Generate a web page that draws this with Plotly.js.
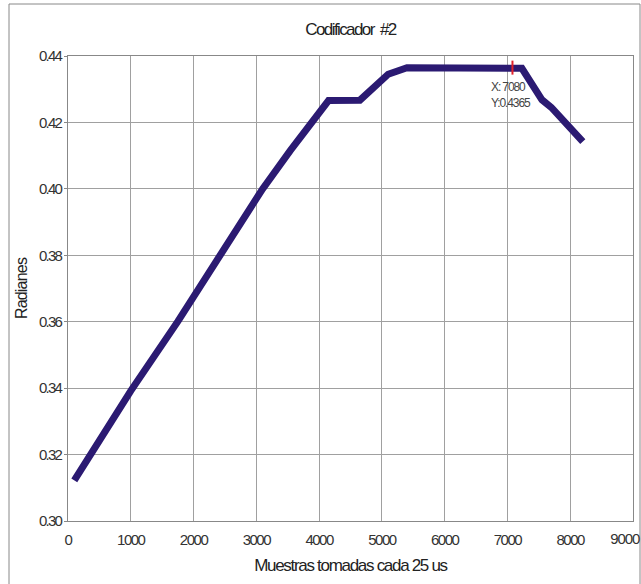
<!DOCTYPE html>
<html>
<head>
<meta charset="utf-8">
<script src="https://cdn.plot.ly/plotly-3.0.1.min.js"></script>
<style>
html,body{margin:0;padding:0;background:#fff;}
#chart{width:641px;height:584px;}
#chart .xtick text{letter-spacing:-1.5px;}
#chart .ytick text{letter-spacing:-1.8px;}
#chart text.xtitle{letter-spacing:-1.3px;}
#chart text.gtitle{letter-spacing:-1.6px;}
#chart text.ytitle{letter-spacing:-0.8px;}
#chart .annotation-text{letter-spacing:-1.1px;}
</style>
</head>
<body>
<div id="chart"></div>
<script>
var muestras = [100, 1000, 1750, 2450, 2650, 3100, 3540, 4150, 4650, 5100, 5400, 7230, 7550, 7700, 8200];
var radianes = [0.3122, 0.3392, 0.3601, 0.3806, 0.3870, 0.4000, 0.4115, 0.4266, 0.4267, 0.4345, 0.4365, 0.4363, 0.4268, 0.4245, 0.4142];
var cursorX = [7080];
var cursorY = [0.4365];
var xTicks = [0, 1000, 2000, 3000, 4000, 5000, 6000, 7000, 8000, 9000];
var yTicks = [0.30, 0.32, 0.34, 0.36, 0.38, 0.40, 0.42, 0.44];

var FONT = '"Liberation Sans", Arial, sans-serif';

var traces = [
  {x: muestras, y: radianes, mode: 'lines', line: {color: '#2b1a72', width: 7}, hoverinfo: 'skip'},
  {x: cursorX, y: cursorY, mode: 'markers', marker: {symbol: 'line-ns', size: 10, line: {color: '#e0202a', width: 2}}, hoverinfo: 'skip'}
];

var lastX = xTicks[xTicks.length - 1];

var layout = {
  width: 641, height: 584,
  margin: {l: 68, r: 8, t: 56, b: 63},
  paper_bgcolor: '#fff', plot_bgcolor: '#fff',
  showlegend: false,
  font: {family: FONT, color: '#333'},
  title: {text: 'Codificador  #2', font: {family: FONT, size: 17, color: '#222'}, x: 0.5, xanchor: 'center', xref: 'paper', y: 0.95, yanchor: 'middle'},
  xaxis: {
    range: [0, 9000], tickvals: xTicks,
    ticktext: xTicks.map(function(v){ return v === lastX ? '' : String(v); }),
    showgrid: true, gridcolor: '#a0a0a0', gridwidth: 1,
    showline: true, linecolor: '#888', linewidth: 1, mirror: true,
    ticks: '', zeroline: false, ticklabelstandoff: 5,
    tickfont: {family: FONT, size: 15, color: '#333'},
    title: {text: 'Muestras tomadas cada 25 us', font: {family: FONT, size: 17, color: '#222'}, standoff: 12}
  },
  yaxis: {
    range: [0.30, 0.44], tickvals: yTicks, ticktext: yTicks.map(function(v){return v.toFixed(2);}),
    showgrid: true, gridcolor: '#a0a0a0', gridwidth: 1,
    showline: true, linecolor: '#888', linewidth: 1, mirror: true,
    ticks: 'outside', ticklen: 3, tickcolor: '#888', zeroline: false,
    tickfont: {family: FONT, size: 15, color: '#333'},
    title: {text: 'Radianes', font: {family: FONT, size: 16, color: '#222'}, standoff: 0}
  },
  annotations: [{
    x: cursorX[0], y: cursorY[0], xref: 'x', yref: 'y',
    text: 'X: ' + cursorX[0] + '<br>Y:' + cursorY[0],
    showarrow: false, xanchor: 'center', yanchor: 'top', yshift: -10, xshift: 3, align: 'left',
    font: {family: FONT, size: 12, color: '#444'}
  }, {
    x: (643 - 68) / 565, xref: 'paper', xanchor: 'right',
    y: 0, yref: 'paper', yanchor: 'top', yshift: -7,
    text: String(lastX), showarrow: false,
    font: {family: FONT, size: 15, color: '#333'}
  }],
  shapes: [{
    type: 'rect', xref: 'paper', yref: 'paper',
    x0: (9 - 68) / 565, x1: (640 - 68) / 565,
    y0: -((600 - 521) / 465), y1: 1 + (56 - 4) / 465,
    line: {color: '#888', width: 1}, fillcolor: 'rgba(0,0,0,0)', layer: 'below'
  }]
};

Plotly.newPlot('chart', traces, layout, {displayModeBar: false, staticPlot: true});
</script>
</body>
</html>
